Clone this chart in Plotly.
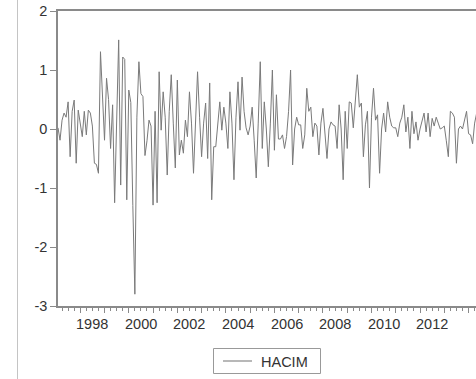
import plotly.graph_objects as go

# Monthly series HACIM, starting 1997M02
series_name = "HACIM"
start_year = 1997
start_month = 2
hacim = [
    0.02, -0.19, 0.15, 0.27, 0.20, 0.46, -0.47, 0.30, 0.49, -0.58,
    0.32, 0.10, -0.13, 0.30, -0.10, 0.32, 0.27, 0.05, -0.58, -0.60,
    -0.75, 1.31, 0.40, -0.19, 0.86, 0.50, -0.33, 0.41, -1.25, 0.00,
    1.51, -0.95, 1.22, 1.18, -1.20, 0.66, 0.45, -1.30, -2.80, 0.20,
    1.14, 0.60, 0.55, -0.45, -0.20, 0.15, 0.05, -1.29, 0.30, -1.25,
    0.97, -0.02, 0.63, 0.20, -0.78, 0.30, 0.92, 0.10, -0.66, 0.83,
    -0.44, -0.19, -0.41, 0.15, -0.13, 0.63, 0.10, -0.75, 0.20, 0.97,
    0.20, -0.47, 0.10, 0.44, -0.50, 0.78, -1.20, -0.30, -0.30, 0.10,
    0.46, -0.02, 0.37, 0.10, -0.33, 0.63, 0.10, -0.86, 0.20, 0.80,
    -0.02, 0.88, 0.30, 0.02, -0.10, 0.05, 0.37, -0.19, -0.83, 0.10,
    1.14, -0.33, 0.46, 0.00, -0.64, 0.10, 1.00, -0.36, 0.58, -0.17,
    -0.17, -0.10, -0.33, -0.13, 0.30, 1.00, -0.61, 0.00, 0.20, 0.07,
    0.07, -0.33, -0.10, 0.69, 0.30, 0.37, -0.13, 0.10, 0.05, -0.44,
    0.10, 0.35, -0.10, -0.50, 0.00, 0.12, 0.07, 0.05, -0.33, 0.41,
    0.00, -0.86, 0.30, -0.33, 0.46, 0.44, 0.02, 0.50, 0.92, 0.37,
    0.44, -0.47, 0.07, 0.30, -1.00, 0.20, 0.69, 0.15, 0.24, -0.75,
    0.00, 0.27, -0.05, 0.46, 0.20, 0.05, 0.02, 0.02, -0.13, 0.10,
    0.20, 0.41, -0.05, 0.20, -0.33, 0.30, -0.08, 0.12, -0.19, 0.00,
    0.15, 0.27, -0.05, 0.27, -0.13, 0.18, 0.05, 0.20, 0.10, 0.00,
    0.02, 0.05, -0.20, -0.47, 0.30, 0.27, 0.20, -0.58, 0.00, 0.05,
    0.00, 0.15, 0.30, -0.08, -0.10, -0.25, 0.10, 0.27, -0.10,
]
year_labels = ["1998", "2000", "2002", "2004", "2006", "2008", "2010", "2012"]
y_ticks = [-3, -2, -1, 0, 1, 2]
major_years = list(range(1998, 2015))
minor_quarters = [y + q / 4 for y in range(1997, 2015) for q in (1, 2, 3)]

x_dates = [start_year + (start_month - 1 + i) / 12 for i in range(len(hacim))]

FONT = "Liberation Sans, Arial, sans-serif"
AXC = "#8a8a8a"
LINEC = "#7a7a7a"

fig = go.Figure()
fig.add_trace(go.Scatter(
    x=x_dates, y=hacim, mode="lines", name=series_name,
    line=dict(color=LINEC, width=1), showlegend=False,
))

W, H = 476, 379
L, R, T, B = 58, 0, 11, 73
pw = W - L - R
ph = H - T - B
bottom_px = T + ph


def px_x(p):
    return (p - L) / pw


def px_y(p):
    return (bottom_px - p) / ph


for lab in year_labels:
    fig.add_annotation(
        x=int(lab) + 0.5, y=px_y(324), xref="x", yref="paper",
        text=lab, showarrow=False, xanchor="center", yanchor="middle",
        font=dict(family=FONT, size=14.5, color="#333"),
    )

# outer window border line on the left
fig.add_shape(type="line", xref="paper", yref="paper",
              x0=px_x(17.5), x1=px_x(17.5), y0=px_y(384), y1=px_y(-5),
              line=dict(color="#c4c4c4", width=1))

# legend box
fig.add_shape(type="rect", xref="paper", yref="paper",
              x0=px_x(213.5), x1=px_x(320.5), y0=px_y(373.5), y1=px_y(348.5),
              line=dict(color="#999", width=1), fillcolor="white")
fig.add_shape(type="line", xref="paper", yref="paper",
              x0=px_x(223), x1=px_x(252), y0=px_y(361), y1=px_y(361),
              line=dict(color="#a0a0a0", width=1.5))
fig.add_annotation(
    x=px_x(259), y=px_y(361.5), xref="paper", yref="paper",
    text=series_name, showarrow=False, xanchor="left", yanchor="middle",
    font=dict(family=FONT, size=14.5, color="#333"),
)

fig.update_layout(
    width=W, height=H,
    margin=dict(l=L, r=R, t=T, b=B, pad=0),
    paper_bgcolor="white", plot_bgcolor="white",
    font=dict(family=FONT, size=14.5, color="#333"),
    showlegend=False,
    xaxis=dict(
        range=[x_dates[0], x_dates[0] + pw / 24.27],
        tickmode="array", tickvals=major_years, ticktext=[""] * len(major_years),
        ticks="outside", ticklen=5, tickcolor=AXC, tickwidth=1,
        showline=True, linecolor=AXC, linewidth=1.5, mirror=True,
        showgrid=False, zeroline=False,
        minor=dict(tickmode="array", tickvals=minor_quarters, ticks="outside",
                   ticklen=3, tickcolor=AXC, tickwidth=1, showgrid=False),
    ),
    yaxis=dict(
        range=[-3, 2], tickmode="array", tickvals=y_ticks,
        ticktext=[str(v) for v in y_ticks],
        ticks="outside", ticklen=6, tickcolor=AXC, tickwidth=1,
        showline=True, linecolor=AXC, linewidth=1.5, mirror=False,
        showgrid=False, zeroline=False,
        tickfont=dict(family=FONT, size=14.5, color="#333"),
    ),
)

fig.write_html("out.html")
